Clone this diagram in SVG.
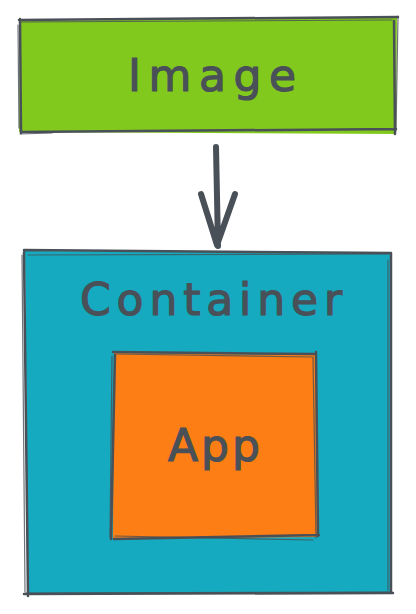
<svg xmlns="http://www.w3.org/2000/svg" width="416" height="614" viewBox="0 0 416 614">
<style>
.edge{fill:none;stroke:#495057;stroke-width:2.5;stroke-linecap:round;stroke-linejoin:round}
.thin{fill:none;stroke:#495057;stroke-width:1.2;stroke-linecap:round;opacity:0.8}
.lbl{font-family:"DejaVu Sans",sans-serif;font-size:44px;fill:#495057;text-anchor:middle;stroke:#495057;stroke-width:1.2}
.arr{fill:none;stroke:#495057;stroke-width:6;stroke-linecap:round;stroke-linejoin:round}
</style>
<rect width="416" height="614" fill="#ffffff"/>
<g id="image">
<path d="M20 21 L397 17 L396 134 L19 132 Z" fill="#82c91e"/>
<path class="edge" d="M19 20 L398 17 M394 21 L395 134 M396 129 L21 132 M20 19 L21 133"/>
<path class="thin" d="M22 22 L392 20 M398 16 L396 131 M20 134 L52 133 M18 25 L19 128"/>
<text class="lbl" x="212" y="91" textLength="168" lengthAdjust="spacing">Image</text>
</g>
<g id="container">
<path d="M25 251 L391 252 L390 594 L28 594 Z" fill="#15aabf"/>
<path class="edge" d="M24 250 L390 253 M391 253 L391 593 M393 593 L24 594 M24 252 L28 596"/>
<path class="thin" d="M28 255 L388 254 M388 260 L388 590 M26 593 L390 592 M22 255 L25 592"/>
<text class="lbl" x="211" y="315" textLength="262" lengthAdjust="spacing">Container</text>
</g>
<g id="app">
<path d="M114 353 L316 355 L318 537 L113 539 Z" fill="#fd7e14"/>
<path class="edge" d="M113 352 L315 354 M316 352 L318 536 M319 535 L114 539 M115 355 L111 539"/>
<path class="thin" d="M116 354 L313 357 M313 357 L316 538 M115 536 L313 540 M112 356 L110 537"/>
<text class="lbl" x="214" y="461" textLength="92" lengthAdjust="spacing">App</text>
</g>
<g id="connectors">
<path class="arr" d="M216 147 L218 246 M201 194 L217 245 L235 194"/>
</g>
</svg>
